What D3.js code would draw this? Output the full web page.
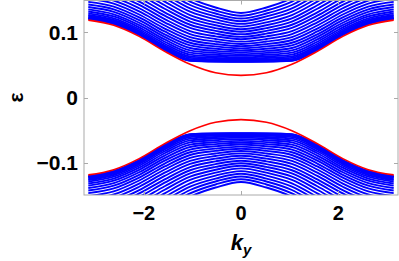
<!DOCTYPE html>
<html>
<head>
<meta charset="utf-8">
<script src="https://cdn.jsdelivr.net/npm/d3@7"></script>
<style>
  html, body { margin: 0; padding: 0; background: #fff; }
  svg { display: block; }
</style>
</head>
<body>
<div id="chart"></div>
<script>
// momentum grid (k_y), step pi/6, shared by every curve
const kGrid = [-3.1416, -2.6180, -2.0944, -1.5708, -1.0472, -0.5236, 0,
               0.5236, 1.0472, 1.5708, 2.0944, 2.6180, 3.1416];

// edge states (red)
const edgeUpper = [0.119, 0.111, 0.094, 0.071, 0.051, 0.038, 0.034, 0.038, 0.051, 0.071, 0.094, 0.111, 0.119];
const edgeLower = [-0.119, -0.111, -0.094, -0.071, -0.051, -0.038, -0.034, -0.038, -0.051, -0.071, -0.094, -0.111, -0.119];

// bulk subbands (blue), conduction side
const bulkUpper = [
  [0.1212, 0.1132, 0.0962, 0.0732, 0.0565, 0.0552, 0.0550, 0.0552, 0.0565, 0.0732, 0.0962, 0.1132, 0.1212],
  [0.1214, 0.1135, 0.0965, 0.0735, 0.0568, 0.0554, 0.0552, 0.0554, 0.0568, 0.0735, 0.0965, 0.1135, 0.1214],
  [0.1222, 0.1142, 0.0972, 0.0743, 0.0576, 0.0561, 0.0558, 0.0561, 0.0576, 0.0743, 0.0972, 0.1142, 0.1222],
  [0.1233, 0.1154, 0.0985, 0.0757, 0.0590, 0.0573, 0.0568, 0.0573, 0.0590, 0.0757, 0.0985, 0.1154, 0.1233],
  [0.1250, 0.1171, 0.1002, 0.0776, 0.0609, 0.0588, 0.0581, 0.0588, 0.0609, 0.0776, 0.1002, 0.1171, 0.1250],
  [0.1270, 0.1192, 0.1024, 0.0799, 0.0632, 0.0608, 0.0598, 0.0608, 0.0632, 0.0799, 0.1024, 0.1192, 0.1270],
  [0.1295, 0.1218, 0.1050, 0.0827, 0.0660, 0.0631, 0.0618, 0.0631, 0.0660, 0.0827, 0.1050, 0.1218, 0.1295],
  [0.1324, 0.1247, 0.1080, 0.0858, 0.0691, 0.0657, 0.0641, 0.0657, 0.0691, 0.0858, 0.1080, 0.1247, 0.1324],
  [0.1356, 0.1280, 0.1113, 0.0893, 0.0725, 0.0686, 0.0667, 0.0686, 0.0725, 0.0893, 0.1113, 0.1280, 0.1356],
  [0.1392, 0.1317, 0.1150, 0.0932, 0.0762, 0.0717, 0.0695, 0.0717, 0.0762, 0.0932, 0.1150, 0.1317, 0.1392],
  [0.1431, 0.1357, 0.1190, 0.0972, 0.0801, 0.0750, 0.0724, 0.0750, 0.0801, 0.0972, 0.1190, 0.1357, 0.1431],
  [0.1472, 0.1399, 0.1232, 0.1016, 0.0842, 0.0786, 0.0756, 0.0786, 0.0842, 0.1016, 0.1232, 0.1399, 0.1472],
  [0.1517, 0.1445, 0.1277, 0.1061, 0.0885, 0.0822, 0.0789, 0.0822, 0.0885, 0.1061, 0.1277, 0.1445, 0.1517],
  [0.1564, 0.1492, 0.1324, 0.1108, 0.0930, 0.0861, 0.0823, 0.0861, 0.0930, 0.1108, 0.1324, 0.1492, 0.1564],
  [0.1613, 0.1542, 0.1373, 0.1157, 0.0976, 0.0900, 0.0859, 0.0900, 0.0976, 0.1157, 0.1373, 0.1542, 0.1613],
  [0.1664, 0.1594, 0.1424, 0.1207, 0.1022, 0.0941, 0.0896, 0.0941, 0.1022, 0.1207, 0.1424, 0.1594, 0.1664],
  [0.1717, 0.1647, 0.1476, 0.1259, 0.1070, 0.0983, 0.0933, 0.0983, 0.1070, 0.1259, 0.1476, 0.1647, 0.1717],
  [0.1772, 0.1703, 0.1530, 0.1311, 0.1119, 0.1025, 0.0972, 0.1025, 0.1119, 0.1311, 0.1530, 0.1703, 0.1772],
  [0.1828, 0.1759, 0.1585, 0.1365, 0.1168, 0.1068, 0.1011, 0.1068, 0.1168, 0.1365, 0.1585, 0.1759, 0.1828],
  [0.1885, 0.1817, 0.1641, 0.1419, 0.1218, 0.1112, 0.1051, 0.1112, 0.1218, 0.1419, 0.1641, 0.1817, 0.1885],
  [0.1944, 0.1876, 0.1699, 0.1475, 0.1269, 0.1156, 0.1091, 0.1156, 0.1269, 0.1475, 0.1699, 0.1876, 0.1944],
  [0.2004, 0.1936, 0.1757, 0.1530, 0.1320, 0.1201, 0.1132, 0.1201, 0.1320, 0.1530, 0.1757, 0.1936, 0.2004],
  [0.2065, 0.1997, 0.1816, 0.1587, 0.1371, 0.1247, 0.1173, 0.1247, 0.1371, 0.1587, 0.1816, 0.1997, 0.2065],
  [0.2127, 0.2059, 0.1876, 0.1644, 0.1423, 0.1292, 0.1215, 0.1292, 0.1423, 0.1644, 0.1876, 0.2059, 0.2127],
  [0.2190, 0.2122, 0.1936, 0.1702, 0.1476, 0.1338, 0.1258, 0.1338, 0.1476, 0.1702, 0.1936, 0.2122, 0.2190],
  [0.2254, 0.2186, 0.1997, 0.1760, 0.1528, 0.1385, 0.1300, 0.1385, 0.1528, 0.1760, 0.1997, 0.2186, 0.2254]
];

// bulk subbands (blue), valence side
const bulkLower = [
  [-0.1212, -0.1132, -0.0962, -0.0732, -0.0565, -0.0552, -0.0550, -0.0552, -0.0565, -0.0732, -0.0962, -0.1132, -0.1212],
  [-0.1214, -0.1135, -0.0965, -0.0735, -0.0568, -0.0554, -0.0552, -0.0554, -0.0568, -0.0735, -0.0965, -0.1135, -0.1214],
  [-0.1222, -0.1142, -0.0972, -0.0743, -0.0576, -0.0561, -0.0558, -0.0561, -0.0576, -0.0743, -0.0972, -0.1142, -0.1222],
  [-0.1233, -0.1154, -0.0985, -0.0757, -0.0590, -0.0573, -0.0568, -0.0573, -0.0590, -0.0757, -0.0985, -0.1154, -0.1233],
  [-0.1250, -0.1171, -0.1002, -0.0776, -0.0609, -0.0588, -0.0581, -0.0588, -0.0609, -0.0776, -0.1002, -0.1171, -0.1250],
  [-0.1270, -0.1192, -0.1024, -0.0799, -0.0632, -0.0608, -0.0598, -0.0608, -0.0632, -0.0799, -0.1024, -0.1192, -0.1270],
  [-0.1295, -0.1218, -0.1050, -0.0827, -0.0660, -0.0631, -0.0618, -0.0631, -0.0660, -0.0827, -0.1050, -0.1218, -0.1295],
  [-0.1324, -0.1247, -0.1080, -0.0858, -0.0691, -0.0657, -0.0641, -0.0657, -0.0691, -0.0858, -0.1080, -0.1247, -0.1324],
  [-0.1356, -0.1280, -0.1113, -0.0893, -0.0725, -0.0686, -0.0667, -0.0686, -0.0725, -0.0893, -0.1113, -0.1280, -0.1356],
  [-0.1392, -0.1317, -0.1150, -0.0932, -0.0762, -0.0717, -0.0695, -0.0717, -0.0762, -0.0932, -0.1150, -0.1317, -0.1392],
  [-0.1431, -0.1357, -0.1190, -0.0972, -0.0801, -0.0750, -0.0724, -0.0750, -0.0801, -0.0972, -0.1190, -0.1357, -0.1431],
  [-0.1472, -0.1399, -0.1232, -0.1016, -0.0842, -0.0786, -0.0756, -0.0786, -0.0842, -0.1016, -0.1232, -0.1399, -0.1472],
  [-0.1517, -0.1445, -0.1277, -0.1061, -0.0885, -0.0822, -0.0789, -0.0822, -0.0885, -0.1061, -0.1277, -0.1445, -0.1517],
  [-0.1564, -0.1492, -0.1324, -0.1108, -0.0930, -0.0861, -0.0823, -0.0861, -0.0930, -0.1108, -0.1324, -0.1492, -0.1564],
  [-0.1613, -0.1542, -0.1373, -0.1157, -0.0976, -0.0900, -0.0859, -0.0900, -0.0976, -0.1157, -0.1373, -0.1542, -0.1613],
  [-0.1664, -0.1594, -0.1424, -0.1207, -0.1022, -0.0941, -0.0896, -0.0941, -0.1022, -0.1207, -0.1424, -0.1594, -0.1664],
  [-0.1717, -0.1647, -0.1476, -0.1259, -0.1070, -0.0983, -0.0933, -0.0983, -0.1070, -0.1259, -0.1476, -0.1647, -0.1717],
  [-0.1772, -0.1703, -0.1530, -0.1311, -0.1119, -0.1025, -0.0972, -0.1025, -0.1119, -0.1311, -0.1530, -0.1703, -0.1772],
  [-0.1828, -0.1759, -0.1585, -0.1365, -0.1168, -0.1068, -0.1011, -0.1068, -0.1168, -0.1365, -0.1585, -0.1759, -0.1828],
  [-0.1885, -0.1817, -0.1641, -0.1419, -0.1218, -0.1112, -0.1051, -0.1112, -0.1218, -0.1419, -0.1641, -0.1817, -0.1885],
  [-0.1944, -0.1876, -0.1699, -0.1475, -0.1269, -0.1156, -0.1091, -0.1156, -0.1269, -0.1475, -0.1699, -0.1876, -0.1944],
  [-0.2004, -0.1936, -0.1757, -0.1530, -0.1320, -0.1201, -0.1132, -0.1201, -0.1320, -0.1530, -0.1757, -0.1936, -0.2004],
  [-0.2065, -0.1997, -0.1816, -0.1587, -0.1371, -0.1247, -0.1173, -0.1247, -0.1371, -0.1587, -0.1816, -0.1997, -0.2065],
  [-0.2127, -0.2059, -0.1876, -0.1644, -0.1423, -0.1292, -0.1215, -0.1292, -0.1423, -0.1644, -0.1876, -0.2059, -0.2127],
  [-0.2190, -0.2122, -0.1936, -0.1702, -0.1476, -0.1338, -0.1258, -0.1338, -0.1476, -0.1702, -0.1936, -0.2122, -0.2190],
  [-0.2254, -0.2186, -0.1997, -0.1760, -0.1528, -0.1385, -0.1300, -0.1385, -0.1528, -0.1760, -0.1997, -0.2186, -0.2254]
];

const kTicks = [-2, 0, 2];
const kTickLabels = ["\u22122", "0", "2"];
const eTicks = [-0.1, 0, 0.1];
const eTickLabels = ["\u22120.1", "0", "0.1"];

function draw() {
  const width = 399, height = 261;
  const left = 84, right = 398, top = 0.5, bottom = 195;
  const frameColor = "#aaaaaa";
  const font = "'Liberation Sans', Arial, sans-serif";

  const svg = d3.select("#chart").append("svg")
    .attr("width", width).attr("height", height);

  const xScale = d3.scaleLinear().domain([-3.23, 3.23]).range([left, right]);
  const yScale = d3.scaleLinear().domain([-0.15, 0.15]).range([bottom, 0]);

  svg.append("defs").append("clipPath").attr("id", "plotClip")
    .append("rect")
    .attr("x", left).attr("y", 0)
    .attr("width", right - left).attr("height", bottom);

  const line = d3.line()
    .x((d, i) => xScale(kGrid[i]))
    .y(d => yScale(d))
    .curve(d3.curveMonotoneX);

  const plot = svg.append("g").attr("clip-path", "url(#plotClip)");

  plot.selectAll(".bulkU").data(bulkUpper).enter().append("path")
    .attr("d", line).attr("fill", "none")
    .attr("stroke", "#0000ff").attr("stroke-width", 1.9);

  plot.selectAll(".bulkL").data(bulkLower).enter().append("path")
    .attr("d", line).attr("fill", "none")
    .attr("stroke", "#0000ff").attr("stroke-width", 1.9);

  plot.selectAll(".edge").data([edgeUpper, edgeLower]).enter().append("path")
    .attr("d", line).attr("fill", "none")
    .attr("stroke", "#ff0000").attr("stroke-width", 1.6);

  // frame
  svg.append("rect")
    .attr("x", left).attr("y", top)
    .attr("width", right - left).attr("height", bottom - top)
    .attr("fill", "none").attr("stroke", frameColor).attr("stroke-width", 1);

  // ticks on all four sides, pointing inward
  kTicks.forEach(t => {
    const x = Math.round(xScale(t)) + 0.5;
    svg.append("line").attr("x1", x).attr("x2", x).attr("y1", bottom).attr("y2", bottom - 4)
      .attr("stroke", frameColor);
    svg.append("line").attr("x1", x).attr("x2", x).attr("y1", top).attr("y2", top + 4)
      .attr("stroke", frameColor);
  });
  eTicks.forEach(t => {
    const y = Math.round(yScale(t)) + 0.5;
    svg.append("line").attr("x1", left).attr("x2", left + 4).attr("y1", y).attr("y2", y)
      .attr("stroke", frameColor);
    svg.append("line").attr("x1", right).attr("x2", right - 4).attr("y1", y).attr("y2", y)
      .attr("stroke", frameColor);
  });

  // tick labels
  svg.selectAll(".kLab").data(kTicks).enter().append("text")
    .attr("x", d => xScale(d)).attr("y", 220)
    .attr("text-anchor", "middle")
    .style("font-family", font).style("font-weight", "bold").style("font-size", "20px")
    .text((d, i) => kTickLabels[i]);

  svg.selectAll(".eLab").data(eTicks).enter().append("text")
    .attr("x", 78).attr("y", d => yScale(d) + 7.5)
    .attr("text-anchor", "end")
    .style("font-family", font).style("font-weight", "bold").style("font-size", "21px")
    .text((d, i) => eTickLabels[i]);

  // axis labels
  svg.append("text")
    .attr("transform", "translate(23," + yScale(0) + ") rotate(-90)")
    .attr("text-anchor", "middle")
    .style("font-family", font).style("font-weight", "bold").style("font-size", "21px")
    .text("\u03b5");

  const kLab = svg.append("text")
    .attr("x", xScale(0)).attr("y", 250)
    .attr("text-anchor", "middle")
    .style("font-family", font).style("font-weight", "bold").style("font-style", "italic")
    .style("font-size", "22px");
  kLab.append("tspan").text("k");
  kLab.append("tspan").attr("dy", 5).style("font-size", "15px").text("y");
}

draw();
</script>
</body>
</html>
